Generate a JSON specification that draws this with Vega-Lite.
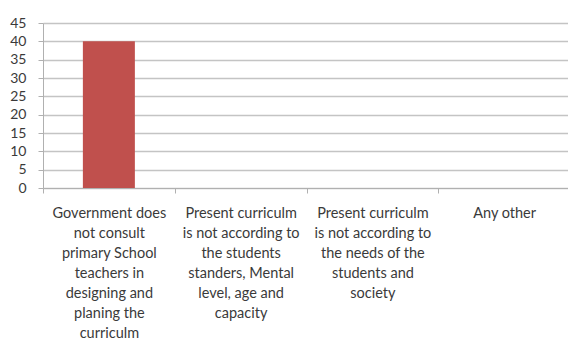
{
  "$schema": "https://vega.github.io/schema/vega-lite/v6.json",
  "autosize": "none",
  "padding": {"left": 43, "top": 23, "right": 0, "bottom": 155},
  "width": 527,
  "height": 165,
  "background": "white",
  "config": {
    "view": {"stroke": null},
    "font": "Lato"
  },
  "data": {
    "values": [
      {"reason": "Government does\nnot consult\nprimary School\nteachers in\ndesigning and\nplaning the\ncurriculm", "value": 40},
      {"reason": "Present curriculm\nis not according to\nthe students\nstanders,  Mental\nlevel, age and\ncapacity", "value": 0},
      {"reason": "Present curriculm\nis not according to\nthe needs of the\nstudents and\nsociety", "value": 0},
      {"reason": "Any other", "value": 0}
    ]
  },
  "mark": {"type": "bar", "color": "#c0504d", "width": 52},
  "encoding": {
    "x": {
      "field": "reason",
      "type": "nominal",
      "sort": null,
      "scale": {"paddingInner": 0, "paddingOuter": 0},
      "axis": {
        "title": null,
        "labelAngle": 0,
        "labelExpr": "split(datum.label, '\\n')",
        "labelLimit": 0,
        "labelFontSize": 14.5,
        "labelLineHeight": 20,
        "labelColor": "#3a3a3a",
        "labelPadding": 13,
        "labelBaseline": "top",
        "tickBand": "extent",
        "tickSize": 5,
        "tickColor": "#b0b0b0",
        "domainColor": "#b0b0b0",
        "grid": false
      }
    },
    "y": {
      "field": "value",
      "type": "quantitative",
      "scale": {"domain": [0, 45]},
      "axis": {
        "title": null,
        "values": [0, 5, 10, 15, 20, 25, 30, 35, 40, 45],
        "labelFontSize": 14,
        "labelColor": "#3a3a3a",
        "labelPadding": 12,
        "tickSize": 5,
        "tickColor": "#b0b0b0",
        "domainColor": "#b0b0b0",
        "gridColor": "#c4c4c4",
        "gridWidth": 1.5
      }
    }
  }
}
